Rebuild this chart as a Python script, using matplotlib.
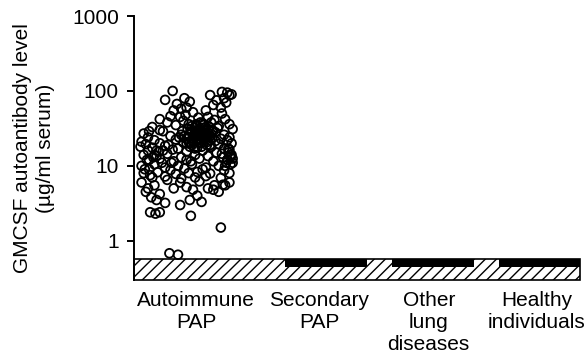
import matplotlib
matplotlib.use("Agg")
import matplotlib.pyplot as plt

plt.rcParams['font.family'] = ['Liberation Sans', 'DejaVu Sans']

# category labels and where they sit on the x axis
groups = ['Autoimmune\nPAP', 'Secondary\nPAP', 'Other\nlung\ndiseases', 'Healthy\nindividuals']
group_x = [-0.21, 0.94, 1.96, 2.97]

# detection limit band (values below the limit)
ymin = 0.3
detect_limit = 0.57

# undetectable samples piled at the limit (other groups)
pile_x = [1.0, 2.0, 3.0]
pile_low = [0.44, 0.44, 0.44]

# autoimmune PAP individual values (jittered x, ug/ml), read band by band
pap_x = [
    # > 50
    -0.43, -0.50, -0.32, -0.39, -0.30, -0.42, -0.24, -0.08, 0.03, 0.08, 0.10, 0.05,
    -0.02, -0.12, -0.05, 0.02, 0.07, 0.12, -0.27, -0.35,
    # 30 - 50
    -0.36, -0.45, -0.55, -0.62, -0.55, -0.48, -0.40, -0.33, -0.28, -0.22, -0.15,
    -0.10, -0.04, 0.00, 0.06, 0.10, 0.13, -0.65, -0.19, -0.31, -0.07, 0.03,
    # 15 - 30
    -0.70, -0.52, -0.35, -0.25, -0.18, -0.12, -0.05, 0.05, -0.66, -0.45, -0.30,
    -0.22, -0.15, -0.08, 0.02, 0.10,
    -0.72, -0.60, -0.40, -0.28, -0.20, -0.13, -0.03, 0.08, -0.68, -0.55, -0.47,
    -0.33, -0.25, -0.17, -0.10, 0.00, 0.12,
    -0.73, -0.62, -0.50, -0.38, -0.27, -0.20, -0.07, 0.05, -0.66, -0.56, -0.43,
    -0.30, -0.15, -0.02, 0.10,
    -0.20, -0.14, -0.10, -0.16, -0.06, -0.26, -0.08, -0.18, -0.22, -0.12, -0.32,
    -0.29, -0.24, -0.03, -0.01, -0.37, -0.21, -0.11, -0.27, -0.17, -0.34, -0.09,
    -0.14, -0.23,
    # 7 - 15
    -0.70, -0.58, -0.48, -0.35, -0.22, -0.10, 0.03, 0.12, -0.67, -0.55, -0.42,
    -0.30, -0.18, -0.05, 0.08, 0.11, 0.07,
    -0.72, -0.60, -0.50, -0.38, -0.25, -0.12, 0.00, 0.11, -0.65, -0.45, -0.32,
    -0.15, 0.05, 0.09, 0.13,
    -0.70, -0.57, -0.40, -0.28, -0.20, -0.08, 0.10, -0.62, -0.50, -0.35, -0.22,
    -0.12, 0.02, -0.44, -0.26, -0.61, -0.52,
    # 3 - 7
    -0.72, -0.66, -0.60, -0.68, -0.55, -0.48, -0.42, -0.36, -0.30, -0.18, -0.24,
    -0.10, -0.04, 0.06, 0.00, -0.63, -0.58, -0.20, -0.27, -0.16, 0.10, -0.05, 0.04,
    # low
    -0.64, -0.59, -0.55, -0.36, -0.26, 0.02, -0.46, -0.38, -0.50,
    # extra points in the dense core and edges
    -0.25, -0.21, -0.17, -0.13, -0.09, -0.28, -0.19, -0.15, -0.11, -0.23, -0.30,
    -0.06, -0.16, -0.20, -0.12, -0.26, -0.08, -0.18, -0.14, -0.22, -0.65, -0.60,
    -0.69, -0.53, -0.58, -0.64, 0.08, 0.11, 0.06, 0.13, 0.09, 0.04,
]
pap_y = [
    100, 76, 80, 67, 60, 55, 52, 88, 97, 95, 88, 80,
    75, 55, 65, 60, 70, 90, 72, 58,
    45, 46, 42, 33, 30, 38, 35, 40, 36, 32, 37,
    45, 41, 34, 42, 36, 31, 29, 44, 48, 38, 50,
    27, 29, 26, 28, 30, 27, 29, 26, 24, 25, 23,
    26, 24, 25, 23, 24,
    21, 22, 22.5, 21, 22, 23, 21.5, 22, 19.5, 20, 19,
    20.5, 19, 20, 21, 19.5, 20,
    18, 17.5, 18.5, 17, 18, 17.5, 18, 17, 16, 15.5, 16.5,
    15.5, 16, 15, 16.5,
    30, 28, 31, 26, 24, 29, 22, 23, 27, 33, 25,
    31, 21, 28, 32, 24, 35, 19, 20, 26, 29, 27,
    22, 25,
    14, 13.5, 14.5, 13, 14, 13.5, 14.5, 14, 12, 12.5, 11.5,
    12, 12.5, 11.5, 12, 13, 11,
    10, 10.5, 9.5, 10, 10.5, 9.5, 10, 10.5, 9, 8.8, 9.2,
    9, 8.7, 15, 12.5,
    8, 8.2, 7.8, 8, 8.3, 7.9, 8, 7, 7.2, 6.8, 7,
    7.3, 6.9, 11, 11.5, 13, 16,
    6, 5, 5.5, 4.5, 4.2, 6.5, 5, 6, 5.2, 6.2, 4.8,
    5, 5.5, 5.5, 4.5, 3.8, 3.5, 4, 3.5, 3.3, 6, 4.8, 5.6,
    2.4, 2.3, 2.4, 3.0, 2.15, 1.5, 0.68, 0.65, 3.2,
    34, 36, 38, 30, 33, 26, 29, 32, 25, 23, 20,
    30, 18, 27, 24, 31, 19, 21, 35, 17, 12, 14,
    9, 11, 16, 7.5, 12, 14, 10, 11, 17, 13,
]

fig, ax = plt.subplots(figsize=(5.88, 3.57), dpi=100)
fig.subplots_adjust(left=0.228, right=0.986, bottom=0.216, top=0.955)

ax.set_yscale('log')
ax.set_ylim(ymin, 1000)
ax.set_xlim(-0.79, 3.37)

# hatched band below the detection limit
ax.axhspan(ymin, detect_limit, facecolor='white', edgecolor='black',
           hatch='///', linewidth=1.2, clip_on=False, zorder=2)

# piles of undetectable values
ax.bar(pile_x, [detect_limit - lo for lo in pile_low], bottom=pile_low,
       width=0.77, color='black', zorder=3)

ax.scatter(pap_x, pap_y, s=40, facecolors='none', edgecolors='black',
           linewidths=1.3, zorder=4)

ax.set_yticks([1, 10, 100, 1000])
ax.set_yticklabels(['1', '10', '100', '1000'])
ax.minorticks_off()
ax.set_xticks(group_x)
ax.set_xticklabels(groups, linespacing=1.2)

ax.tick_params(axis='y', length=5, width=1.4, labelsize=15, pad=6)
ax.tick_params(axis='x', length=0, labelsize=15, pad=8)

for side in ['top', 'right', 'bottom']:
    ax.spines[side].set_visible(False)
ax.spines['left'].set_linewidth(1.4)

ax.set_ylabel('GMCSF autoantibody level\n(µg/ml serum)', fontsize=15,
              linespacing=1.25, labelpad=12.5)

fig.savefig('out.png', dpi=100)
